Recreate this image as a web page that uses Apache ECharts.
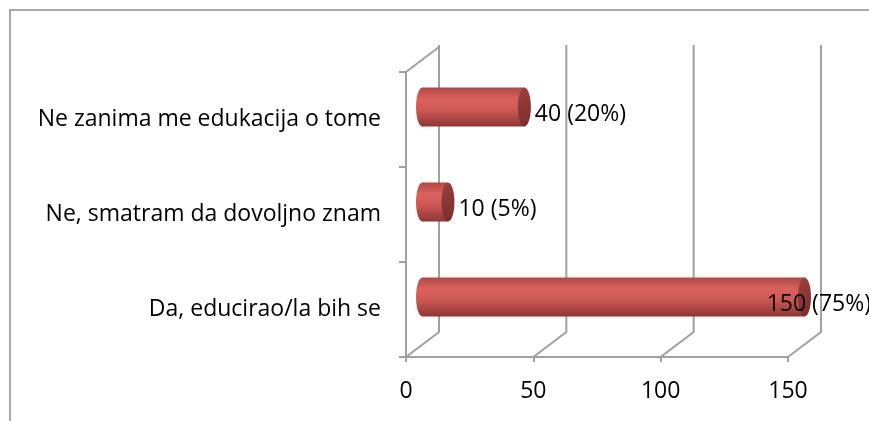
<!DOCTYPE html>
<html>
<head>
<meta charset="utf-8">
<script src="https://cdn.jsdelivr.net/npm/echarts@6/dist/echarts.min.js"></script>
<style>
html,body{margin:0;padding:0;background:#fff;}
#chart{width:869px;height:421px;}
</style>
</head>
<body>
<div id="chart"></div>
<script>
const categories = ['Ne zanima me edukacija o tome', 'Ne, smatram da dovoljno znam', 'Da, educirao/la bih se'];
const values = [40, 10, 150];
const percents = [20, 5, 75];
const xTicks = [0, 50, 100, 150];

const FONT = '"Open Sans", Lato, sans-serif';
const FSIZE = 23;
const DX = 33, DY = -25;
const GRID = '#a0a0a0';

const mctx = document.createElement('canvas').getContext('2d');
mctx.font = FSIZE + 'px ' + FONT;

const chart = echarts.init(document.getElementById('chart'), null, {renderer: 'canvas'});

function renderWalls(params, api) {
  const cs = params.coordSys;
  const v = api.value(0);
  const x = api.coord([v, 0])[0];
  const top = cs.y, bottom = cs.y + cs.height;
  const style = {stroke: GRID, lineWidth: 2, fill: null};
  const children = [{
    type: 'polyline',
    shape: {points: [[x, bottom], [x + DX, bottom + DY], [x + DX, top + DY - 2]]},
    style: style
  }];
  if (v === xTicks[0]) {
    children.push({type: 'line', shape: {x1: x, y1: top, x2: x + DX, y2: top + DY}, style: style});
  }
  return {type: 'group', children: children};
}

function renderBars(params, api) {
  const v = api.value(0), i = api.value(1);
  const p0 = api.coord([0, i]), p1 = api.coord([v, i]);
  const band = api.size([0, 1])[1];
  const ry = band * 0.205, rx = 6.5;
  const cx0 = p0[0] + DX / 2, cx1 = p1[0] + DX / 2, cy = p0[1] + DY / 2;
  const body = new echarts.graphic.LinearGradient(0, 0, 0, 1, [
    {offset: 0, color: '#b24744'},
    {offset: 0.3, color: '#d9625e'},
    {offset: 0.55, color: '#d05a56'},
    {offset: 1, color: '#8f3634'}
  ]);
  const cap = new echarts.graphic.LinearGradient(0, 0, 1, 1, [
    {offset: 0, color: '#9a403d'},
    {offset: 1, color: '#7a2d2b'}
  ]);
  const label = v + ' (' + percents[i] + '%)';
  const w = mctx.measureText(label).width;
  let lx = p1[0] + 27;
  if (lx + w > api.getWidth()) lx = api.getWidth() - w + 2;
  return {
    type: 'group',
    children: [
      {type: 'ellipse', shape: {cx: cx0, cy: cy, rx: rx, ry: ry}, style: {fill: body}},
      {type: 'rect', shape: {x: cx0, y: cy - ry, width: cx1 - cx0, height: ry * 2}, style: {fill: body}},
      {type: 'ellipse', shape: {cx: cx1, cy: cy, rx: rx, ry: ry}, style: {fill: cap}},
      {type: 'text', z2: 10, style: {text: label, x: lx, y: p0[1] - 5, verticalAlign: 'middle', align: 'left',
        fill: '#000', fontSize: FSIZE, fontFamily: FONT}}
    ]
  };
}

chart.setOption({
  animation: false,
  backgroundColor: '#fff',
  textStyle: {fontFamily: FONT},
  grid: {left: 406, right: 81, top: 72, bottom: 64, containLabel: false},
  xAxis: {
    type: 'value', min: xTicks[0], max: xTicks[xTicks.length - 1], interval: 50,
    axisLine: {show: true, lineStyle: {color: GRID, width: 2}},
    axisTick: {show: true, length: 5, lineStyle: {color: GRID, width: 2}},
    axisLabel: {color: '#000', fontSize: FSIZE, fontFamily: FONT, margin: 23},
    splitLine: {show: false}
  },
  yAxis: {
    type: 'category', data: categories, inverse: true,
    axisLine: {show: true, lineStyle: {color: GRID, width: 2}},
    axisTick: {show: true, length: 7, lineStyle: {color: GRID, width: 2}},
    axisLabel: {color: '#000', fontSize: FSIZE, fontFamily: FONT, margin: 25, align: 'right', padding: [12, 0, 0, 0]},
    splitLine: {show: false}
  },
  graphic: [{
    type: 'polyline', silent: true,
    shape: {points: [[10, 430], [10, 10], [880, 10]]},
    style: {stroke: '#8c8c8c', lineWidth: 1.5, fill: null}
  }],
  series: [
    {type: 'custom', renderItem: renderWalls, data: xTicks.map(v => [v]), encode: {x: 0}, z: 1, silent: true},
    {type: 'custom', renderItem: renderBars, data: values.map((v, i) => [v, i]), encode: {x: 0, y: 1}, z: 2, silent: true}
  ]
});
</script>
</body>
</html>
